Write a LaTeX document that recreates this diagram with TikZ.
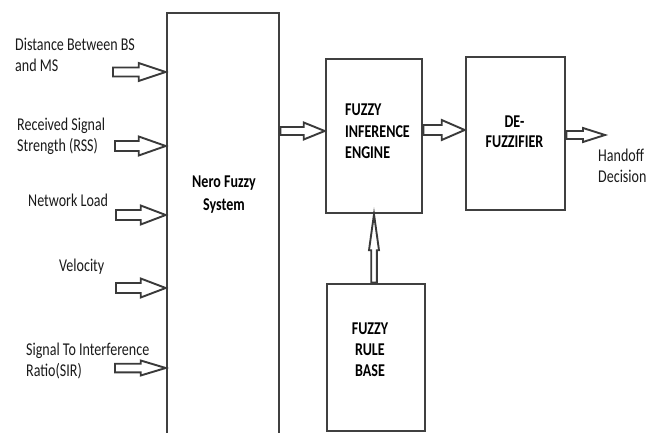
\documentclass[tikz,border=0pt]{standalone}
\usepackage{fontspec}
\setmainfont{Carlito}[FakeStretch=0.78]
\usetikzlibrary{calc}
\definecolor{boxgray}{HTML}{404040}
\definecolor{arrgray}{HTML}{3A3A3A}
\definecolor{txt}{HTML}{1A1A1A}
\tikzset{
  blk/.style={draw=boxgray, line width=2.6pt, fill=none, inner sep=0pt},
  hollow/.style={draw=arrgray, line width=1.9pt, line join=miter},
  lab/.style={font=\fontsize{18}{21}\selectfont, text=txt, inner sep=0pt, anchor=base west, align=left},
  blab/.style={font=\fontsize{18}{21.5}\selectfont\bfseries, text=black, inner sep=0pt},
}
% horizontal hollow arrow: start, tip, shaft half-height, head half-height, head length
\newcommand{\harrow}[5]{%
  \draw[hollow] let \p1=(#1), \p2=(#2) in
    (\x1,\y1+#3) -- (\x2-#5,\y1+#3) -- (\x2-#5,\y1+#4) -- (\x2,\y1)
    -- (\x2-#5,\y1-#4) -- (\x2-#5,\y1-#3) -- (\x1,\y1-#3) -- cycle;}
% vertical (upward) hollow arrow: start, tip, shaft half-width, head half-width, head length
\newcommand{\varrow}[5]{%
  \draw[hollow] let \p1=(#1), \p2=(#2) in
    (\x1-#3,\y1) -- (\x1-#3,\y2-#5) -- (\x1-#4,\y2-#5) -- (\x1,\y2)
    -- (\x1+#4,\y2-#5) -- (\x1+#3,\y2-#5) -- (\x1+#3,\y1) -- cycle;}
\begin{document}
\begin{tikzpicture}[x=1pt,y=-1pt]
\clip (0,0) rectangle (657,433);
\useasboundingbox (0,0) rectangle (657,433);

% boxes
\node[blk, minimum width=112pt, minimum height=432pt] (nfs) at (223,229) {};
\node[blk, minimum width=96pt, minimum height=154pt] (fie) at (374,136) {};
\node[blk, minimum width=99pt, minimum height=153pt] (df) at (515.5,133.5) {};
\node[blk, minimum width=98pt, minimum height=147pt] (rb) at (376,357.5) {};

% box texts
\node[blab, anchor=base, align=center, font=\fontsize{18}{23}\selectfont\bfseries] (nfsT) at (224,211) {Nero Fuzzy\\System};
\node[blab, anchor=base west, align=left] (fieT) at (345,159) {FUZZY\\INFERENCE\\ENGINE};
\node[blab, anchor=base, align=center, font=\fontsize{18}{20}\selectfont\bfseries] (dfT) at (514.5,148) {DE-\\FUZZIFIER};
\node[blab, anchor=base, align=center] (rbT) at (370,377) {FUZZY\\RULE\\BASE};

% input labels
\node[lab] (t1) at (15,72) {Distance Between BS\\and MS};
\node[lab] (t2) at (17,152) {Received Signal\\Strength (RSS)};
\node[lab] (t3) at (28,207) {Network Load};
\node[lab] (t4) at (59,272) {Velocity};
\node[lab] (t5) at (26,377) {Signal To Interference\\Ratio(SIR)};
\node[lab] (out) at (598,183) {Handoff\\Decision};

% input arrows
\coordinate (s1) at (113,72);
\coordinate (s2) at (115,146);
\coordinate (s3) at (116,215);
\coordinate (s4) at (116,288);
\coordinate (s5) at (115,368);
\harrow{s1}{nfs.west |- s1}{4.5pt}{9pt}{27pt}
\harrow{s2}{nfs.west |- s2}{5pt}{9.5pt}{27pt}
\harrow{s3}{nfs.west |- s3}{5pt}{9.5pt}{25pt}
\harrow{s4}{nfs.west |- s4}{5pt}{9.5pt}{25pt}
\harrow{s5}{nfs.west |- s5}{4.3pt}{7.5pt}{25pt}

% internal arrows
\coordinate (m1) at (279,131);
\harrow{m1 -| nfs.east}{fie.west |- m1}{4pt}{8.5pt}{21pt}
\coordinate (m2) at (422,130);
\harrow{m2 -| fie.east}{df.west |- m2}{5pt}{10pt}{23pt}
\coordinate (o1) at (605,135);
\harrow{df.east |- o1}{o1}{4pt}{7pt}{22pt}
\varrow{fie.south |- rb.north}{fie.south}{2.8pt}{5pt}{36pt}
\end{tikzpicture}
\end{document}
